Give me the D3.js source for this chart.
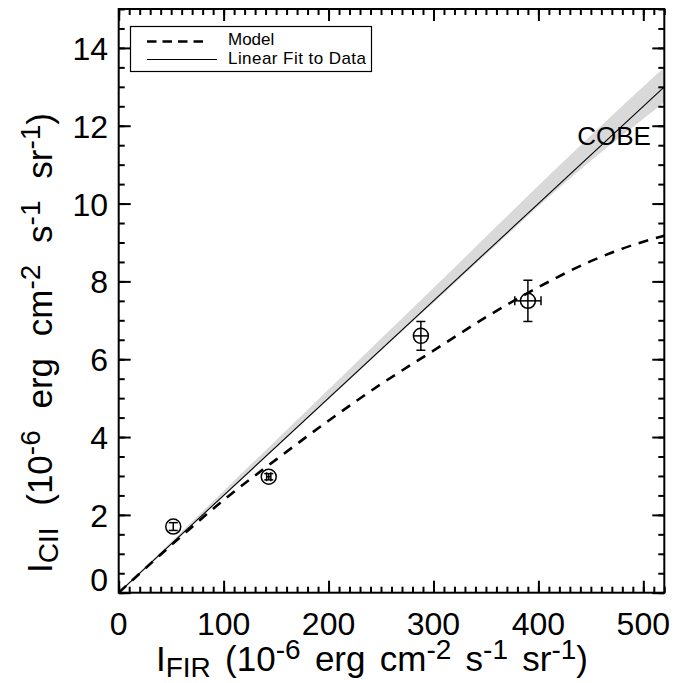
<!DOCTYPE html>
<html>
<head>
<meta charset="utf-8">
<script src="https://cdn.jsdelivr.net/npm/d3@7"></script>
<style>
  body { margin: 0; background: #fff; }
  svg { font-family: "Liberation Sans", Arial, Helvetica, sans-serif; }
</style>
</head>
<body>
<svg id="chart" width="688" height="683"></svg>
<script>
// data
var obsX    = [52, 143, 288, 390];
var obsY    = [1.70, 2.98, 6.60, 7.50];
var obsXErr = [0, 2, 7, 12.5];
var obsYErr = [0.10, 0.08, 0.37, 0.53];

var modelX = [0, 50, 100, 150, 200, 250, 300, 350, 400, 450, 500, 520];
var modelY = [0, 1.22, 2.38, 3.42, 4.42, 5.36, 6.22, 7.08, 7.85, 8.52, 9.02, 9.17];

var fitX    = [0, 520];
var fitY    = [0, 13.0];
var bandX   = [0, 150, 300, 450, 520];
var bandLoY = [0, 3.72, 7.45, 11.1, 12.6];
var bandHiY = [0, 3.92, 7.83, 11.75, 13.5];

var xTicks = [0, 100, 200, 300, 400, 500];
var yTicks = [0, 2, 4, 6, 8, 10, 12, 14];

var svg = d3.select('#chart');
var pLeft = 118.7, pTop = 9, pRight = 664.3, pBottom = 592.7;

var x = d3.scaleLinear().domain([0, 520]).range([pLeft, pRight]);
var y = d3.scaleLinear().domain([0, 15]).range([pBottom, pTop]);

svg.append('clipPath').attr('id', 'plotclip')
    .append('rect').attr('x', pLeft).attr('y', pTop)
    .attr('width', pRight - pLeft).attr('height', pBottom - pTop);

var plot = svg.append('g').attr('clip-path', 'url(#plotclip)');

/* shaded uncertainty band of the fit */
var band = bandX.map(function(d, i) { return {x: d, lo: bandLoY[i], hi: bandHiY[i]}; });
plot.append('path')
    .datum(band)
    .attr('fill', '#d9d9d9')
    .attr('d', d3.area().curve(d3.curveMonotoneX)
        .x(function(d) { return x(d.x); })
        .y0(function(d) { return y(d.lo); })
        .y1(function(d) { return y(d.hi); }));

/* linear fit */
plot.append('path')
    .datum(fitX.map(function(d, i) { return [d, fitY[i]]; }))
    .attr('fill', 'none').attr('stroke', '#000').attr('stroke-width', 1.1)
    .attr('d', d3.line().x(function(d) { return x(d[0]); }).y(function(d) { return y(d[1]); }));

/* model curve */
plot.append('path')
    .datum(modelX.map(function(d, i) { return [d, modelY[i]]; }))
    .attr('fill', 'none').attr('stroke', '#000').attr('stroke-width', 2.6)
    .attr('stroke-dasharray', '10,8')
    .attr('d', d3.line().curve(d3.curveMonotoneX)
        .x(function(d) { return x(d[0]); }).y(function(d) { return y(d[1]); }));

/* data points with error bars */
var pts = obsX.map(function(d, i) {
    return {x: d, y: obsY[i], ex: obsXErr[i], ey: obsYErr[i]};
});
var rad = 7.5;
var pg = svg.append('g').attr('stroke', '#000').attr('fill', 'none').attr('stroke-width', 1.5);
pts.forEach(function(p) {
    var cx = x(p.x), cy = y(p.y);
    var cap = 4.5;
    pg.append('line').attr('x1', cx).attr('x2', cx).attr('y1', y(p.y - p.ey)).attr('y2', y(p.y + p.ey));
    pg.append('line').attr('x1', cx - cap).attr('x2', cx + cap).attr('y1', y(p.y - p.ey)).attr('y2', y(p.y - p.ey));
    pg.append('line').attr('x1', cx - cap).attr('x2', cx + cap).attr('y1', y(p.y + p.ey)).attr('y2', y(p.y + p.ey));
    if (p.ex > 0) {
        var x0 = x(p.x - p.ex), x1 = x(p.x + p.ex);
        pg.append('line').attr('x1', x0).attr('x2', x1).attr('y1', cy).attr('y2', cy);
        // caps only where the bar sticks out of the circle
        if (x1 - cx > rad || x1 - cx < rad * 0.5) {
            pg.append('line').attr('x1', x0).attr('x2', x0).attr('y1', cy - cap).attr('y2', cy + cap);
            pg.append('line').attr('x1', x1).attr('x2', x1).attr('y1', cy - cap).attr('y2', cy + cap);
        }
    }
    pg.append('circle').attr('cx', cx).attr('cy', cy).attr('r', rad);
});

/* axes: major + minor ticks on all four sides */
var ax = svg.append('g');
function addAxis(axisFn, scale, ticks, size, transform) {
    var a = axisFn(scale).tickValues(ticks).tickSize(size).tickFormat('');
    var g = ax.append('g').attr('transform', transform).call(a);
    g.select('.domain').remove();
    g.selectAll('line').attr('stroke', '#000').attr('stroke-width', 2);
    return g;
}
var xMinor = d3.range(0, 521, 10);
var yMinor = d3.range(0, 15.01, 0.5);

addAxis(d3.axisTop, x, xMinor, 6, 'translate(0,' + pBottom + ')');
addAxis(d3.axisTop, x, xTicks, 12, 'translate(0,' + pBottom + ')');
addAxis(d3.axisBottom, x, xMinor, 6, 'translate(0,' + pTop + ')');
addAxis(d3.axisBottom, x, xTicks, 12, 'translate(0,' + pTop + ')');
addAxis(d3.axisRight, y, yMinor, 6, 'translate(' + pLeft + ',0)');
addAxis(d3.axisRight, y, yTicks, 12, 'translate(' + pLeft + ',0)');
addAxis(d3.axisLeft, y, yMinor, 6, 'translate(' + pRight + ',0)');
addAxis(d3.axisLeft, y, yTicks, 12, 'translate(' + pRight + ',0)');

/* tick labels */
var tickFont = 32;
ax.append('g').selectAll('text').data(xTicks).enter().append('text')
    .attr('x', function(d) { return x(d); }).attr('y', 635)
    .attr('text-anchor', 'middle').attr('font-size', tickFont).text(function(d) { return d; });
ax.append('g').selectAll('text').data(yTicks).enter().append('text')
    .attr('x', 108).attr('y', function(d) { return Math.min(y(d) + 12, 591); })
    .attr('text-anchor', 'end').attr('font-size', tickFont).text(function(d) { return d; });

ax.append('rect').attr('x', pLeft).attr('y', pTop)
    .attr('width', pRight - pLeft).attr('height', pBottom - pTop)
    .attr('fill', 'none').attr('stroke', '#000').attr('stroke-width', 2);

/* axis titles */
function unitLabel(t, sym, sub, fs) {
    var ss = fs * 0.8, lo = fs * 0.16, hi = fs * 0.33;
    t.attr('font-size', fs);
    t.append('tspan').text(sym);
    t.append('tspan').attr('font-size', ss).attr('dy', lo).text(sub);
    t.append('tspan').attr('dy', -lo).text(' (10');
    t.append('tspan').attr('font-size', ss).attr('dy', -hi).text('-6');
    t.append('tspan').attr('dy', hi).text(' erg cm');
    t.append('tspan').attr('font-size', ss).attr('dy', -hi).text('-2');
    t.append('tspan').attr('dy', hi).text(' s');
    t.append('tspan').attr('font-size', ss).attr('dy', -hi).text('-1');
    t.append('tspan').attr('dy', hi).text(' sr');
    t.append('tspan').attr('font-size', ss).attr('dy', -hi).text('-1');
    t.append('tspan').attr('dy', hi).text(')');
}
// same glyph size for both titles, spaces stretched a little to the reference span
function fitTitle(t, sym, sub, fs, target) {
    unitLabel(t, sym, sub, fs);
    var w = t.node().getComputedTextLength();
    t.style('word-spacing', Math.max(0, (target - w) / 5) + 'px');
}
var xt = svg.append('text').attr('x', 372).attr('y', 671).attr('text-anchor', 'middle');
fitTitle(xt, 'I', 'FIR', 35, 432);

var yt = svg.append('text').attr('transform', 'translate(52,343) rotate(-90)')
    .attr('text-anchor', 'middle');
fitTitle(yt, 'I', 'CII', 35, 460);

/* COBE label */
svg.append('text').attr('x', 614).attr('y', 145).attr('text-anchor', 'middle')
    .attr('font-size', 26).text('COBE');

/* legend */
var lg = svg.append('g');
lg.append('rect').attr('x', 130.5).attr('y', 26.5).attr('width', 241).attr('height', 45)
    .attr('fill', '#fff').attr('stroke', '#000').attr('stroke-width', 1.2);
lg.append('line').attr('x1', 147).attr('x2', 209).attr('y1', 41.5).attr('y2', 41.5)
    .attr('stroke', '#000').attr('stroke-width', 2.6).attr('stroke-dasharray', '9.5,6');
lg.append('line').attr('x1', 147).attr('x2', 217).attr('y1', 59.5).attr('y2', 59.5)
    .attr('stroke', '#000').attr('stroke-width', 1);
lg.append('text').attr('x', 228).attr('y', 45).attr('font-size', 17).text('Model');
lg.append('text').attr('x', 228).attr('y', 64).attr('font-size', 17)
    .attr('textLength', 138).text('Linear Fit to Data');
</script>
</body>
</html>
